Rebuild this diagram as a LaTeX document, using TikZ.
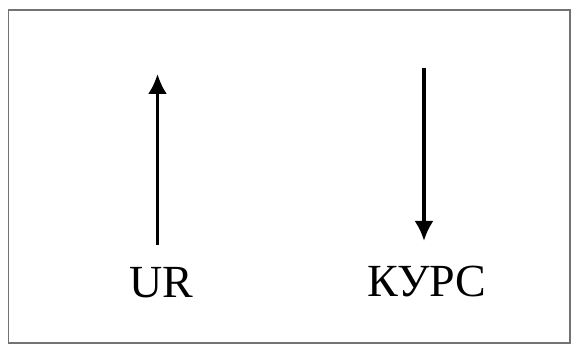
\documentclass[tikz,border=0pt]{standalone}
\usepackage{fontspec}
\setmainfont{Liberation Serif}
\usetikzlibrary{arrows.meta}
\begin{document}
\begin{tikzpicture}[x=1pt,y=1pt,
  frame/.style={draw=black!55,line width=1.8pt},
  arr/.style={line width=3pt,-{Latex[length=20pt,width=19pt]}},
  lbl/.style={font=\fontsize{46}{50}\selectfont,anchor=base,inner sep=0pt}]
\useasboundingbox (0,0) rectangle (571,345);
\fill[white] (0,0) rectangle (571,345);
\draw[frame] (8.5,2) rectangle (570,335);
\node[lbl] (ur) at (161,47) {UR};
\node[lbl] (kurs) at (427,48) {КУРС};
\coordinate (ua) at (157.5,100);
\coordinate (ub) at (157.5,271);
\coordinate (da) at (424,277);
\coordinate (db) at (424,104);
\draw[arr] (ua) -- (ub);
\draw[arr,line width=3.6pt] (da) -- (db);
\end{tikzpicture}
\end{document}
